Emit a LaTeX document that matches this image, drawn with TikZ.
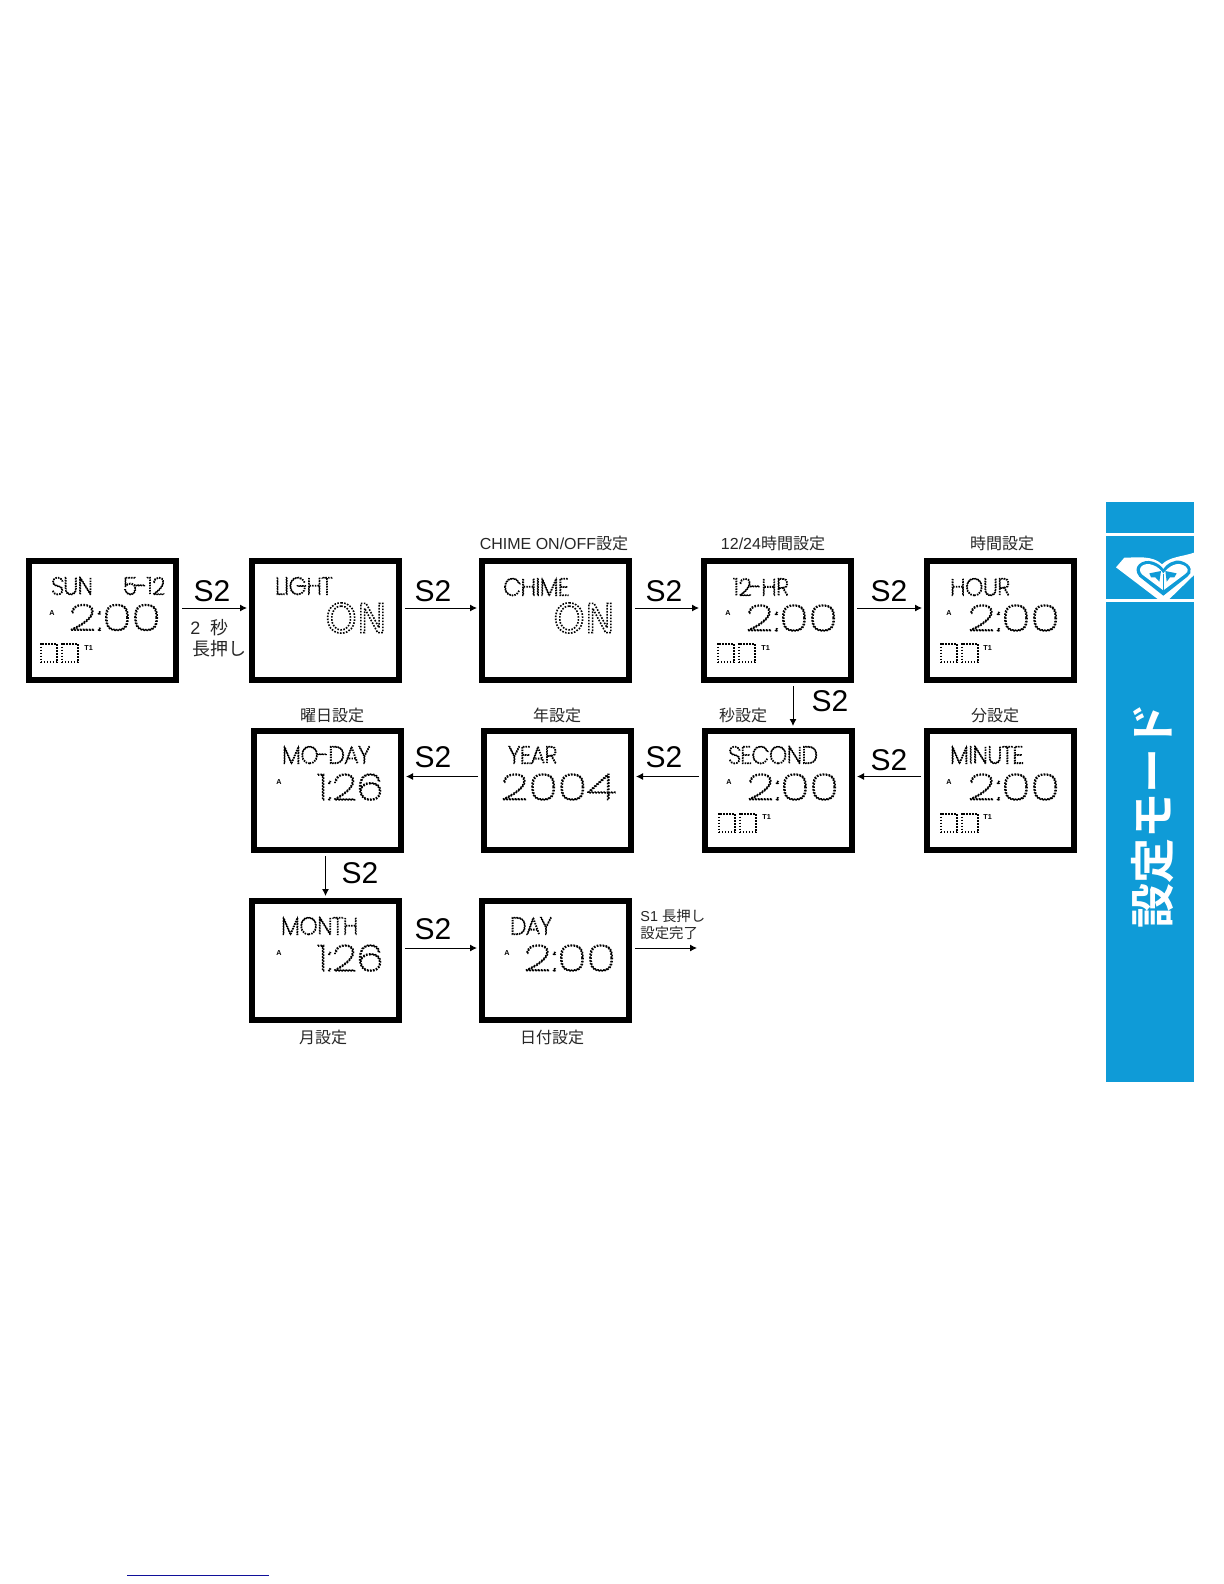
\documentclass[tikz,border=0pt]{standalone}
\usepackage{fontspec}
\usepackage{xcolor}
\usetikzlibrary{positioning,arrows.meta}
\setmainfont{Liberation Sans}
\newfontfamily\jpfont{Noto Sans CJK JP}
\newfontfamily\jpbold{Noto Sans CJK JP Bold}
\newfontfamily\lcdfont[FakeStretch=1.38]{Poppins Thin}
\newfontfamily\lcdnarrow[FakeStretch=1.2]{Poppins Thin}
\newfontfamily\lcdtitle[FakeStretch=0.95]{Poppins Thin}
\newfontfamily\lcdheavy{DejaVu Sans}
\newcommand{\lcdstroke}{\special{pdf:code 1 Tr 0.8 w [0.8 0.7] 0 d}}
\newcommand{\lcdfine}{\special{pdf:code 1 Tr 0.7 w [0.7 0.6] 0 d}}
\newcommand{\jp}[1]{{\jpfont #1}}
\definecolor{band}{HTML}{0F9BD7}
\definecolor{rule}{HTML}{10109A}

\begin{document}
\begin{tikzpicture}[
  x=0.5pt,y=-0.5pt,
  every node/.style={align=center,inner sep=0pt},
  screen/.style={rectangle,draw,line width=3pt,minimum width=73.5pt,minimum height=59.5pt},
  caption/.style={font=\fontsize{8}{9}\selectfont,text=black!85},
  keyname/.style={font=\fontsize{15}{15}\selectfont},
  note/.style={font=\fontsize{7.2}{8.5}\selectfont,align=left,text=black!85},
  title/.style={anchor=west,font=\lcdtitle\fontsize{12}{12}\selectfont\lcdfine},
  clock/.style={anchor=west,font=\lcdfont\fontsize{18}{18}\selectfont\lcdstroke},
  datefig/.style={anchor=west,font=\lcdnarrow\fontsize{18}{18}\selectfont\lcdstroke},
  onoff/.style={anchor=west,font=\lcdheavy\fontsize{20}{20}\selectfont\lcdstroke},
  flag/.style={anchor=west,font=\bfseries\fontsize{3.6}{4}\selectfont},
  cell/.style={rectangle,draw,line width=0.8pt,dash pattern=on 0.8pt off 0.7pt,minimum width=8.2pt,minimum height=9.2pt,anchor=north west},
  link/.style={-{Latex[length=3.5pt,width=3.5pt]},line width=0.5pt,shorten <=1.5pt,shorten >=1pt}
]
\useasboundingbox (0,0) rectangle (1224,1584);

% first row
\node[screen] (sun) at (102.5,620.5) {};
\node[screen,right=35pt of sun] (light) {};
\node[screen,right=38.5pt of light] (chime) {};
\node[screen,right=34.5pt of chime] (hourmode) {};
\node[screen,right=35pt of hourmode] (hour) {};
% second row
\node[screen,below=22.5pt of hour] (minute) {};
\node[screen,left=34.5pt of minute] (second) {};
\node[screen,left=34pt of second] (year) {};
\node[screen,left=38.5pt of year] (monthday) {};
% third row
\node[screen,below=22.5pt of monthday,xshift=-1pt] (month) {};
\node[screen,right=38.5pt of month] (day) {};

% what each screen shows
\node[title] (sunword) at (51,586) {SUN};
\node[title] (sundate) at (123,586) {5-12};
\node[clock] (sunclock) at (68,617.5) {2:00};
\node[flag] (sunalarm) at (49,613) {A};
\node[cell] (suncella) at (40,643) {};
\node[cell,right=1.5pt of suncella] (suncellb) {};
\node[flag] (suntimer) at (84,648) {T1};

\node[title] (lightword) at (275,586) {LIGHT};
\node[onoff] (lightstate) at (325,618) {ON};

\node[title] (chimeword) at (503,587) {CHIME};
\node[onoff] (chimestate) at (553,618) {ON};

\node[title] (hourmodeword) at (733,587) {12-HR};
\node[clock] (hourmodeclock) at (745,618) {2:00};
\node[flag] (hourmodealarm) at (725,613) {A};
\node[cell] (hourmodecella) at (717,643) {};
\node[cell,right=1.5pt of hourmodecella] (hourmodecellb) {};
\node[flag] (hourmodetimer) at (761,648) {T1};

\node[title] (hourword) at (950,587) {HOUR};
\node[clock] (hourclock) at (967,618) {2:00};
\node[flag] (houralarm) at (946,613) {A};
\node[cell] (hourcella) at (940,643) {};
\node[cell,right=1.5pt of hourcella] (hourcellb) {};
\node[flag] (hourtimer) at (983,648) {T1};

\node[title] (minuteword) at (950,755) {MINUTE};
\node[clock] (minuteclock) at (967,787) {2:00};
\node[flag] (minutealarm) at (946,782) {A};
\node[cell] (minutecella) at (940,813) {};
\node[cell,right=1.5pt of minutecella] (minutecellb) {};
\node[flag] (minutetimer) at (983,817) {T1};

\node[title] (secondword) at (728,755) {SECOND};
\node[clock] (secondclock) at (746,787) {2:00};
\node[flag] (secondalarm) at (726,782) {A};
\node[cell] (secondcella) at (718,813) {};
\node[cell,right=1.5pt of secondcella] (secondcellb) {};
\node[flag] (secondtimer) at (762,817) {T1};

\node[title] (yearword) at (508,755) {YEAR};
\node[clock] (yearvalue) at (500,787) {2004};

\node[title] (monthdayword) at (282,755) {MO-DAY};
\node[datefig] (monthdayvalue) at (317,787) {1:26};
\node[flag] (monthdayalarm) at (276,782) {A};

\node[title] (monthword) at (281,926) {MONTH};
\node[datefig] (monthvalue) at (317,958) {1:26};
\node[flag] (monthalarm) at (276,953) {A};

\node[title] (dayword) at (510,926) {DAY};
\node[clock] (dayclock) at (523,958) {2:00};
\node[flag] (dayalarm) at (504,953) {A};

% captions
\node[caption] (chimecap) at (554,543) {CHIME ON/OFF\jp{設定}};
\node[caption] (hourmodecap) at (773,543) {12/24\jp{時間設定}};
\node[caption] (hourcap) at (1002,543) {\jp{時間設定}};
\node[caption] (monthdaycap) at (332,715) {\jp{曜日設定}};
\node[caption] (yearcap) at (557,715) {\jp{年設定}};
\node[caption] (secondcap) at (743,715) {\jp{秒設定}};
\node[caption] (minutecap) at (995,715) {\jp{分設定}};
\node[caption] (monthcap) at (323,1037) {\jp{月設定}};
\node[caption] (daycap) at (552,1037) {\jp{日付設定}};

% arrows
\coordinate (finish) at (699,948);
\draw[link] ([yshift=6.25pt]sun.east) -- ([yshift=6.25pt]light.west);
\draw[link] ([yshift=6.25pt]light.east) -- ([yshift=6.25pt]chime.west);
\draw[link] ([yshift=6.25pt]chime.east) -- ([yshift=6.25pt]hourmode.west);
\draw[link] ([yshift=6.25pt]hourmode.east) -- ([yshift=6.25pt]hour.west);
\draw[link] ([xshift=7.75pt]hourmode.south) -- ([xshift=7.25pt]second.north);
\draw[link] ([yshift=7pt]minute.west) -- ([yshift=7pt]second.east);
\draw[link] ([yshift=7pt]second.west) -- ([yshift=7pt]year.east);
\draw[link] ([yshift=7pt]year.west) -- ([yshift=7pt]monthday.east);
\draw[link] ([xshift=-1pt]monthday.south) -- (month.north);
\draw[link] ([yshift=6.25pt]month.east) -- ([yshift=6.25pt]day.west);
\draw[link] ([yshift=6.25pt]day.east) -- (finish);

% key labels
\node[keyname] (keya) at (212,591) {S2};
\node[keyname] (keyb) at (433,591) {S2};
\node[keyname] (keyc) at (664,591) {S2};
\node[keyname] (keyd) at (889,591) {S2};
\node[keyname] (keye) at (830,701) {S2};
\node[keyname] (keyf) at (889,760) {S2};
\node[keyname] (keyg) at (664,757) {S2};
\node[keyname] (keyh) at (433,757) {S2};
\node[keyname] (keyi) at (360,873) {S2};
\node[keyname] (keyj) at (433,929) {S2};
\node[note,font=\fontsize{9}{11}\selectfont,anchor=west] (holdtime) at (190,628) {2\ \ \jp{秒}};
\node[note,font=\fontsize{9}{11}\selectfont,anchor=west] (holdword) at (192,649) {\jp{長押し}};
\node[note,anchor=west] (finishnote) at (640,925) {S1 \jp{長押し}\\\jp{設定完了}};

% side band
\fill[band] (1106,502) rectangle (1194,1082);
\fill[white] (1106,533) rectangle (1194,536);
\fill[white] (1106,599) rectangle (1194,602);
\node[rotate=90,text=white,font=\jpbold\fontsize{22.5}{22.5}\selectfont] (modename) at (1153,816) {設定モード};
\begin{scope}[shift={(1106,545)},x=0.1667pt,y=-0.1667pt]
\fill[white] (30,67) -- (55,38) .. controls (90,38) and (140,30) .. (168,58) .. controls (190,35) and (230,35) .. (264,23) -- (264,90) -- (190,162) -- (155,162) -- cycle;
\fill[band] (172,152) -- (100,95) .. controls (75,65) and (110,40) .. (140,50) .. controls (155,55) and (165,62) .. (172,72) .. controls (180,58) and (205,42) .. (225,48) .. controls (260,58) and (260,85) .. (244,95) -- cycle;
\fill[white] (172,136) -- (108,88) .. controls (90,68) and (115,50) .. (140,60) .. controls (155,65) and (165,75) .. (172,86) .. controls (180,72) and (205,52) .. (225,58) .. controls (250,66) and (250,80) .. (236,88) -- cycle;
\fill[band] (130,85) -- (165,78) -- (160,110) -- (148,97) -- (135,97) -- cycle;
\fill[band] (212,85) -- (178,78) -- (182,110) -- (192,97) -- (205,97) -- cycle;
\draw[band,line width=0.5pt] (171,86) -- (171,140);
\end{scope}

% rule at the foot
\draw[rule,line width=0.5pt] (127,1575) -- (269,1575);
\end{tikzpicture}
\end{document}
